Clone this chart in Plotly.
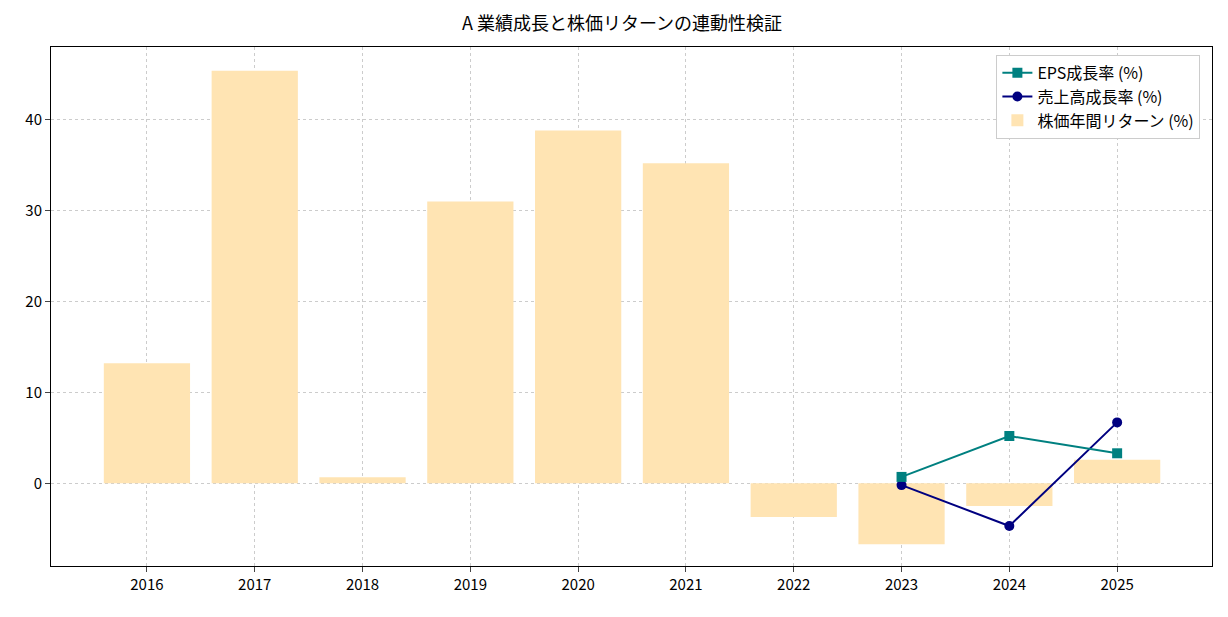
import plotly.graph_objects as go

years = [2016, 2017, 2018, 2019, 2020, 2021, 2022, 2023, 2024, 2025]
stock_return = [13.2, 45.4, 0.66, 31.0, 38.8, 35.2, -3.7, -6.7, -2.5, 2.6]
line_years = [2023, 2024, 2025]
sales_growth = [-0.2, -4.7, 6.7]
eps_growth = [0.7, 5.2, 3.3]

F = "Noto Sans CJK JP"
fig = go.Figure()
fig.add_trace(go.Scatter(x=line_years, y=sales_growth, mode="lines+markers", name="売上高成長率 (%)",
                         line=dict(color="#000080", width=2), marker=dict(symbol="circle", size=10)))
fig.add_trace(go.Scatter(x=line_years, y=eps_growth, mode="lines+markers", name="EPS成長率 (%)",
                         line=dict(color="#008080", width=2), marker=dict(symbol="square", size=10)))
fig.add_trace(go.Bar(x=years, y=stock_return, width=0.8, marker=dict(color="#FFE4B3", line=dict(width=0)),
                     name="株価年間リターン (%)"))
fig.data = (fig.data[2], fig.data[0], fig.data[1])
fig.update_layout(
    width=1228, height=617, plot_bgcolor="white", paper_bgcolor="white",
    margin=dict(l=43, r=24, t=39, b=59, autoexpand=False),
    font=dict(family=F, size=15, color="black"),
    title=dict(text="A 業績成長と株価リターンの連動性検証", x=0.5, xanchor="center", y=0.985, yanchor="top",
               font=dict(size=18)),
    legend=dict(x=0.99, y=0.985, xanchor="right", yanchor="top", bordercolor="#cccccc", borderwidth=1,
                traceorder="reversed", font=dict(size=16)),
    showlegend=True,
)
fig.update_xaxes(range=[2015.11, 2025.88], tickvals=years, ticks="outside", showline=True, mirror=True,
                 linecolor="black", showgrid=True, gridcolor="#cccccc", griddash="dot", zeroline=False,
                 automargin=False)
fig.update_yaxes(range=[-9.1, 48.0], tickvals=[0, 10, 20, 30, 40], ticks="outside", showline=True, mirror=True,
                 linecolor="black", showgrid=True, gridcolor="#cccccc", griddash="dot", zeroline=False,
                 automargin=False)
fig.write_html("out.html")
